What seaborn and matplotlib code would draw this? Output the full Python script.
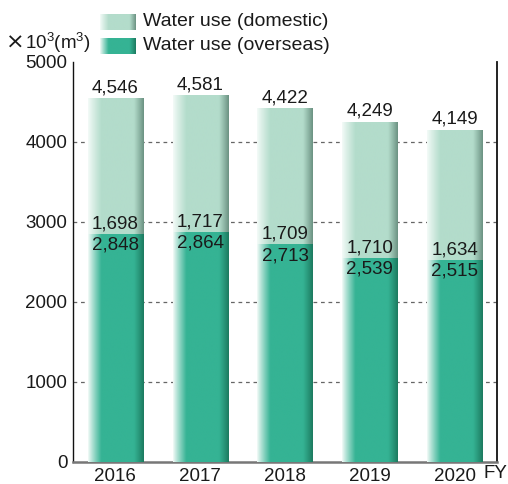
import numpy as np
import pandas as pd
import matplotlib
matplotlib.use("Agg")
import matplotlib.pyplot as plt
from matplotlib.colors import to_rgb
import seaborn as sns

years = ["2016", "2017", "2018", "2019", "2020"]
overseas = [2848, 2864, 2713, 2539, 2515]
domestic = [1698, 1717, 1709, 1710, 1634]
yticks = [0, 1000, 2000, 3000, 4000, 5000]

dom_mid, dom_dark = "#b3dccb", "#6b9282"
ovs_mid, ovs_dark = "#35b394", "#1c7a5f"

df = pd.DataFrame({"year": years, "overseas": overseas, "domestic": domestic})
df["total"] = df["overseas"] + df["domestic"]

sns.set_theme(style="white")
plt.rcParams["font.family"] = ["Liberation Sans", "DejaVu Sans"]
plt.rcParams["mathtext.fontset"] = "custom"
plt.rcParams["mathtext.rm"] = "Liberation Sans"

FS = 13.5
TXT = "#1a1a1a"

fig = plt.figure(figsize=(5.08, 4.84), dpi=100)
ax = fig.add_axes([73 / 508, 22 / 484, 424 / 508, 400 / 484])

sns.barplot(data=df, x="year", y="total", order=years, color=dom_mid,
            width=0.65, saturation=1, ax=ax, zorder=2)
sns.barplot(data=df, x="year", y="overseas", order=years, color=ovs_mid,
            width=0.65, saturation=1, ax=ax, zorder=3)


def gradient(mid, dark, n=220):
    """Horizontal shading: pale at the left edge, flat middle, darker right edge."""
    t = np.linspace(0, 1, n)
    m = np.array(to_rgb(mid))
    d = np.array(to_rgb(dark))
    w = np.array([0.96, 0.985, 0.975])
    out = np.empty((1, n, 3))
    for i, v in enumerate(t):
        if v < 0.24:
            a = (v / 0.24) ** 0.9
            c = w * (1 - a) + m * a
        elif v > 0.82:
            a = ((v - 0.82) / 0.18) ** 1.1
            c = m * (1 - a) + d * a
        else:
            c = m
        out[0, i] = c
    return out


grad_dom = gradient(dom_mid, dom_dark)
grad_ovs = gradient(ovs_mid, ovs_dark)

patches = list(ax.patches)
n = len(years)
for k, p in enumerate(patches):
    x0, y0 = p.get_x(), p.get_y()
    w, h = p.get_width(), p.get_height()
    img = grad_dom if k < n else grad_ovs
    ax.imshow(img, extent=[x0, x0 + w, y0, y0 + h], aspect="auto",
              interpolation="bilinear", zorder=p.get_zorder())
    p.set_visible(False)

ax.set_xlim(-0.5, 4.5)
ax.set_ylim(0, 5000)

# value labels
for i in range(n):
    tot = df["total"][i]
    ov = df["overseas"][i]
    dm = df["domestic"][i]
    ax.annotate(f"{tot:,}", (i, tot), xytext=(0, 1.5), textcoords="offset points",
                ha="center", va="bottom", fontsize=FS, color=TXT, zorder=5)
    ax.annotate(f"{dm:,}", (i, ov), xytext=(0, 1.5), textcoords="offset points",
                ha="center", va="bottom", fontsize=FS, color=TXT, zorder=5)
    ax.annotate(f"{ov:,}", (i, ov), xytext=(0, -1.5), textcoords="offset points",
                ha="center", va="top", fontsize=FS, color=TXT, zorder=5)

# dashed guide lines
for yv in yticks[1:-1]:
    ax.axhline(yv, color="#666666", lw=0.9, ls=(0, (3, 3)), zorder=1)

ax.set_yticks(yticks)
ax.set_yticklabels([str(v) for v in yticks], fontsize=FS, color=TXT)
ax.set_xticks(range(n))
ax.set_xticklabels(years, fontsize=FS, color=TXT)
ax.tick_params(axis="both", length=0, pad=4)
ax.set_xlabel("")
ax.set_ylabel("")

ax.spines["top"].set_visible(False)
ax.spines["left"].set_color("#111111")
ax.spines["left"].set_linewidth(1.0)
ax.spines["right"].set_color("#111111")
ax.spines["right"].set_linewidth(1.3)
ax.spines["bottom"].set_color("#777777")
ax.spines["bottom"].set_linewidth(1.8)

fig.text(507 / 508, 1 - 474 / 484, "FY", ha="right", va="center",
         fontsize=FS, color=TXT)

# unit label
fig.text(6 / 508, 1 - 43 / 484, "×", ha="left", va="center",
         fontsize=16, color=TXT, family=["DejaVu Sans"])
fig.text(25 / 508, 1 - 43 / 484, r"10$^{3}$(m$^{3}$)", ha="left",
         va="center", fontsize=FS, color=TXT)

# legend swatches
for yc, img, lab in [(22, grad_dom, "Water use (domestic)"),
                     (46, grad_ovs, "Water use (overseas)")]:
    sax = fig.add_axes([100 / 508, 1 - (yc + 8) / 484, 36 / 508, 16 / 484])
    sax.imshow(img, aspect="auto", interpolation="bilinear")
    sax.axis("off")
    fig.text(143 / 508, 1 - yc / 484, lab, ha="left", va="center",
             fontsize=14, color=TXT)

fig.savefig("out.png", dpi=100)
